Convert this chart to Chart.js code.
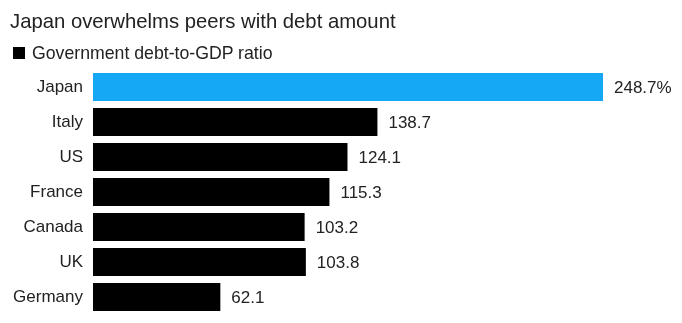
<!DOCTYPE html>
<html>

<head>
    <title>Japan debt chart</title>
    <script src="https://cdn.jsdelivr.net/npm/chart.js"></script>
    <style>
        body {
            margin: 0;
            background: #fff;
            font-family: 'Liberation Sans', Arial, sans-serif;
        }

        .wrap {
            position: relative;
            width: 682px;
            height: 323px;
        }

        .title {
            position: absolute;
            left: 10px;
            top: 10px;
            font-size: 20.3px;
            color: #222;
            white-space: nowrap;
        }

        .legend {
            position: absolute;
            left: 13px;
            top: 43px;
            font-size: 17.7px;
            color: #222;
            white-space: nowrap;
        }

        .legend .box {
            display: inline-block;
            width: 12px;
            height: 12px;
            background: #000;
            margin-right: 7px;
        }

        canvas {
            position: absolute;
            left: 0;
            top: 0;
        }
    </style>
</head>

<body>
    <div class="wrap">
        <canvas id="chart" width="682" height="323"></canvas>
        <div class="title">Japan overwhelms peers with debt amount</div>
        <div class="legend"><span class="box"></span>Government debt-to-GDP ratio</div>
    </div>

    <script>
        const countries = ['Japan', 'Italy', 'US', 'France', 'Canada', 'UK', 'Germany'];
        const debtRatio = [248.7, 138.7, 124.1, 115.3, 103.2, 103.8, 62.1];
        const valueLabels = ['248.7%', '138.7', '124.1', '115.3', '103.2', '103.8', '62.1'];
        const barColors = ['#14a8f5', '#000', '#000', '#000', '#000', '#000', '#000'];

        // draws the number just right of each bar
        const valueLabelPlugin = {
            id: 'valueLabels',
            afterDatasetsDraw(chart) {
                const ctx = chart.ctx;
                const meta = chart.getDatasetMeta(0);
                ctx.save();
                ctx.font = '17px "Liberation Sans", Arial, sans-serif';
                ctx.fillStyle = '#222';
                ctx.textBaseline = 'middle';
                ctx.textAlign = 'left';
                meta.data.forEach((bar, i) => {
                    ctx.fillText(valueLabels[i], bar.x + 11, bar.y + 1);
                });
                ctx.restore();
            }
        };

        new Chart(document.getElementById('chart'), {
            type: 'bar',
            data: {
                labels: countries,
                datasets: [{
                    label: 'Government debt-to-GDP ratio',
                    data: debtRatio,
                    backgroundColor: barColors,
                    borderWidth: 0,
                    barPercentage: 0.8,
                    categoryPercentage: 1
                }]
            },
            options: {
                indexAxis: 'y',
                responsive: false,
                animation: false,
                layout: {
                    padding: { top: 69.5, bottom: 8.5, left: 0, right: 79 }
                },
                plugins: {
                    legend: { display: false },
                    title: { display: false },
                    tooltip: { enabled: false }
                },
                scales: {
                    x: {
                        display: false,
                        min: 0,
                        max: 248.7
                    },
                    y: {
                        grid: { display: false, drawTicks: false },
                        border: { display: false },
                        ticks: {
                            color: '#222',
                            padding: 10,
                            font: { size: 17, family: '"Liberation Sans", Arial, sans-serif' }
                        },
                        afterFit(scale) {
                            scale.width = 93;
                            // no extra room for the edge labels
                            scale.paddingTop = 0;
                            scale.paddingBottom = 0;
                        }
                    }
                }
            },
            plugins: [valueLabelPlugin]
        });
    </script>
</body>

</html>
